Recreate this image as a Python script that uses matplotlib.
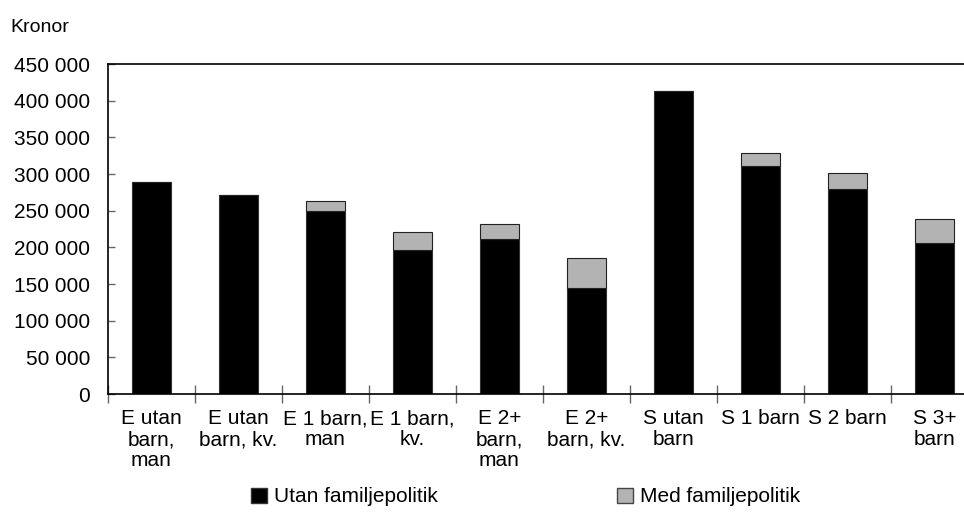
import matplotlib.pyplot as plt
from matplotlib.patches import Patch
from matplotlib.ticker import FuncFormatter
import numpy as np

plt.rcParams['font.family'] = ['Liberation Sans', 'DejaVu Sans']

# kategorier och värden (kronor)
kategorier = ["E utan\nbarn,\nman", "E utan\nbarn, kv.", "E 1 barn,\nman", "E 1 barn,\nkv.",
              "E 2+\nbarn,\nman", "E 2+\nbarn, kv.", "S utan\nbarn", "S 1 barn", "S 2 barn", "S 3+\nbarn"]
utan = [289000, 271000, 249000, 196500, 212000, 144500, 413500, 311000, 280000, 206500]
med = [289000, 271000, 263000, 220500, 231500, 185000, 413500, 328000, 302000, 238000]
yticks = [0, 50000, 100000, 150000, 200000, 250000, 300000, 350000, 400000, 450000]

W, H = 964, 512
fig = plt.figure(figsize=(W / 100, H / 100), dpi=100)
ax = fig.add_axes([108 / W, 118 / H, 870 / W, 330 / H])

x = np.arange(len(kategorier)) + 0.5
utan = np.array(utan)
med = np.array(med)
ax.bar(x, utan, width=0.445, color='black', edgecolor='#333333', linewidth=0.8)
ax.bar(x, med - utan, bottom=utan, width=0.445, color='#b3b3b3', edgecolor='#222222', linewidth=0.8)

ax.set_xlim(0, len(kategorier))
ax.set_ylim(0, 450000)
ax.set_yticks(yticks)
ax.yaxis.set_major_formatter(FuncFormatter(lambda v, p: f"{int(v):,}".replace(",", " ")))
ax.tick_params(axis='y', direction='in', length=5, width=1, color='#666666', labelsize=15, pad=13)

ax.set_xticks(np.arange(0, len(kategorier) + 1))
ax.set_xticklabels([])
ax.set_xticks(x, minor=True)
ax.set_xticklabels(kategorier, minor=True, fontsize=15, linespacing=1.12)
ax.tick_params(axis='x', which='major', direction='inout', length=13, width=1, color='#666666')
ax.tick_params(axis='x', which='minor', length=0, pad=11)

for s in ['left', 'bottom', 'top']:
    ax.spines[s].set_linewidth(1.2)
    ax.spines[s].set_color('black')
ax.spines['right'].set_visible(False)

fig.text(10 / W, 1 - 32 / H, "Kronor", fontsize=14, va='baseline')

fig.legend(handles=[Patch(facecolor='black', edgecolor='#333333')], labels=["Utan familjepolitik"],
           loc='center left', bbox_to_anchor=(251 / W, 1 - 497 / H), frameon=False, fontsize=15,
           handlelength=0.77, handleheight=0.72, handletextpad=0.34, borderpad=0, borderaxespad=0)
fig.legend(handles=[Patch(facecolor='#b3b3b3', edgecolor='#444444')], labels=["Med familjepolitik"],
           loc='center left', bbox_to_anchor=(617 / W, 1 - 497 / H), frameon=False, fontsize=15,
           handlelength=0.77, handleheight=0.72, handletextpad=0.34, borderpad=0, borderaxespad=0)

fig.savefig('out.png', dpi=100)
